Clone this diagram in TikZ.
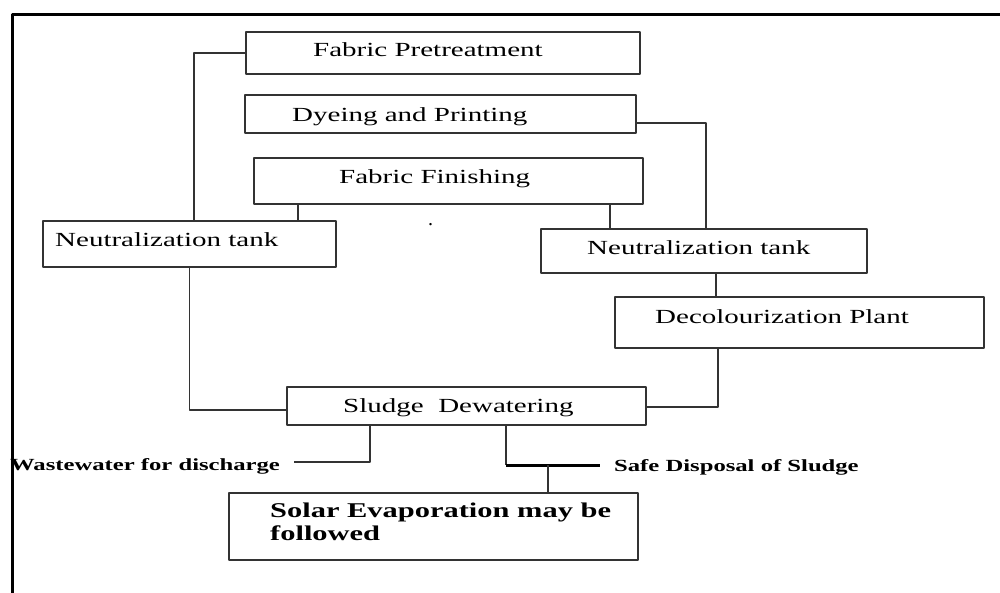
\documentclass[tikz,border=0pt]{standalone}
\usepackage{fontspec}
\setmainfont{Liberation Serif}
\usepackage{graphicx}
\usetikzlibrary{calc}
\tikzset{box/.style={draw=black!80,line width=1.2pt,rectangle,inner sep=0pt}}
\tikzset{conn/.style={draw=black!80,line width=1.2pt}}
\tikzset{heavy/.style={draw=black,line width=3pt}}
\tikzset{l/.style={font=\fontsize{20}{20}\selectfont,inner sep=0pt,anchor=base west}}
\tikzset{m/.style={font=\fontsize{17}{17}\selectfont\bfseries,inner sep=0pt,anchor=base west}}
\newcommand{\widetxt}[1]{\scalebox{1.45}[1]{#1}}

\begin{document}
\begin{tikzpicture}[x=1pt,y=-1pt,line join=round]
  \useasboundingbox (0,0) rectangle (1000,592);
  % boxes
  \node[box,minimum width=394pt,minimum height=42pt] (pre) at (443,53) {};
  \node[l] (preT) at (313,56) {\widetxt{Fabric Pretreatment}};
  \node[box,minimum width=391pt,minimum height=38pt] (dye) at (440.5,114) {};
  \node[l] (dyeT) at (292,121) {\widetxt{Dyeing and Printing}};
  \node[box,minimum width=389pt,minimum height=46pt] (fin) at (448.5,181) {};
  \node[l] (finT) at (339,183) {\widetxt{Fabric Finishing}};
  \node[box,minimum width=293pt,minimum height=46pt] (neuL) at (189.5,244) {};
  \node[l] (neuLT) at (55,246) {\widetxt{Neutralization tank}};
  \node[box,minimum width=326pt,minimum height=44pt] (neuR) at (704,251) {};
  \node[l] (neuRT) at (587,254) {\widetxt{Neutralization tank}};
  \node[box,minimum width=369pt,minimum height=51pt] (dec) at (799.5,322.5) {};
  \node[l] (decT) at (655,323) {\widetxt{Decolourization Plant}};
  \node[box,minimum width=359pt,minimum height=38pt] (slu) at (466.5,406) {};
  \node[l] (sluT) at (343,412) {\widetxt{Sludge\hspace{0.25em} Dewatering}};
  \node[box,minimum width=409pt,minimum height=67pt] (sol) at (433.5,526.5) {};
  \node[l,font=\fontsize{21}{23}\selectfont\bfseries,align=left] (solT) at (270,540)
    {\widetxt{Solar Evaporation may be}\\\widetxt{followed}};
  \node[l] (dot) at (428,225) {.};
  % outlets
  \node[m] (wwT) at (10,470) {\widetxt{Wastewater for discharge}};
  \node[m] (sdT) at (614,471) {\widetxt{Safe Disposal of Sludge}};
  \coordinate (wwend) at (294,462);
  \coordinate (sdbend) at (506,465);
  \coordinate (sdend) at (600,465);
  % connectors
  \draw[conn] (pre.west) -| ([xshift=4.5pt]neuL.north);
  \draw[conn] (298,0 |- fin.south) -- (298,0 |- neuL.north);
  \draw[conn] ([yshift=-9pt]dye.east) -| (706,0 |- neuR.north);
  \draw[conn] (610,0 |- fin.south) -- (610,0 |- neuR.north);
  \draw[conn] (716,0 |- neuR.south) -- (716,0 |- dec.north);
  \draw[conn] (neuL.south) |- ([yshift=-4pt]slu.west);
  \draw[conn] (718,0 |- dec.south) |- ([yshift=-1pt]slu.east);
  \draw[conn] (370,0 |- slu.south) |- (wwend);
  \draw[conn] (sdbend |- slu.south) -- (sdbend);
  \draw[heavy] (sdbend) -- (sdend);
  \draw[conn] (548,0 |- sdend) -- (548,0 |- sol.north);
  % frame
  \draw[line width=3pt] (12,600) -- (12,14) -- (1010,14);
\end{tikzpicture}
\end{document}
